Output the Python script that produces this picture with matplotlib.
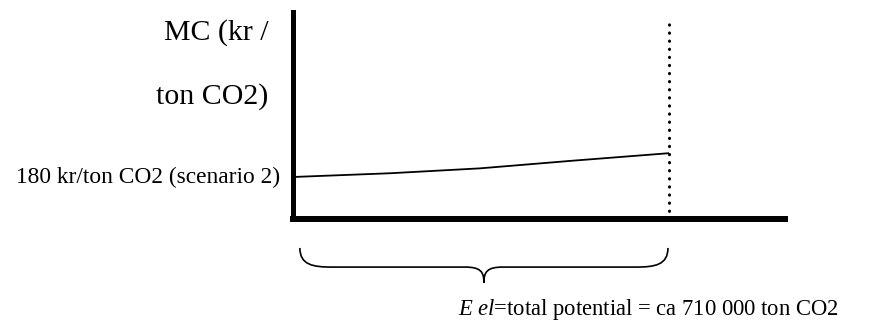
import matplotlib
matplotlib.use("Agg")
import matplotlib.pyplot as plt
from matplotlib.path import Path
from matplotlib.patches import PathPatch

plt.rcParams['font.family'] = ['Liberation Serif', 'DejaVu Serif']
plt.rcParams['mathtext.fontset'] = 'custom'
plt.rcParams['mathtext.rm'] = 'Liberation Serif'
plt.rcParams['mathtext.it'] = 'Liberation Serif:italic'

# --- data (conceptual marginal cost curve) ---
potential_x = [0, 183000, 353000, 529000, 710000]   # ton CO2
mc_values = [180, 196, 217, 250, 282]               # kr / ton CO2
total_potential = 710000
ylabel_lines = ["MC (kr /", "ton CO2)"]
start_label = "180 kr/ton CO2 (scenario 2)"
bottom_label = r"$\mathit{E\ el}$=total potential = ca 710 000 ton CO2"

W, H = 872, 322
fig = plt.figure(figsize=(W / 100, H / 100), dpi=100)

def fx(px):
    return px / W

def fy(py):
    return 1 - py / H

ax = fig.add_axes([fx(293), fy(219), fx(785) - fx(293), fy(12) - fy(219)])
ax.set_xlim(0, 929000)
ax.set_ylim(0, 887)

for s in ['top', 'right']:
    ax.spines[s].set_visible(False)
ax.spines['left'].set_linewidth(3.6)
ax.spines['bottom'].set_linewidth(4.3)
ax.spines['left'].set_capstyle('projecting')
ax.spines['bottom'].set_capstyle('projecting')
ax.set_xticks([])
ax.set_yticks([])

# curve
ax.plot(potential_x, mc_values, color='black', lw=1.3, solid_capstyle='butt')

# dotted limit line
ax.plot([total_potential, total_potential], [0, 846], color='black', lw=2.2,
        linestyle=(0, (0.1, 2.55)), dash_capstyle='round')

# brace under the x-axis (data coords, outside the axes)
x0, x1 = 13000, 708000
xm = (x0 + x1) / 2
ytop, ymid, ybot = -124, -206, -274
dx1 = 60000
dx2 = 36000
verts = [
    (x0, ytop), (x0, ymid + 10), (x0 + dx1 * 0.4, ymid), (x0 + dx1, ymid),
    (xm - dx2, ymid),
    (xm - 6000, ymid), (xm, ymid - 20), (xm, ybot),
    (xm, ymid - 20), (xm + 6000, ymid), (xm + dx2, ymid),
    (x1 - dx1, ymid),
    (x1 - dx1 * 0.4, ymid), (x1, ymid + 10), (x1, ytop),
]
codes = [Path.MOVETO, Path.CURVE4, Path.CURVE4, Path.CURVE4,
         Path.LINETO,
         Path.CURVE4, Path.CURVE4, Path.CURVE4,
         Path.CURVE4, Path.CURVE4, Path.CURVE4,
         Path.LINETO,
         Path.CURVE4, Path.CURVE4, Path.CURVE4]
ax.add_patch(PathPatch(Path(verts, codes), fill=False, lw=1.2,
                       edgecolor='black', clip_on=False))

# texts
fig.text(fx(268), fy(33), ylabel_lines[0], ha='right', va='center', fontsize=21.5)
fig.text(fx(268), fy(97), ylabel_lines[1], ha='right', va='center', fontsize=21.5)
fig.text(fx(280), fy(177), start_label, ha='right', va='center', fontsize=16.8)
fig.text(fx(458), fy(309), bottom_label, ha='left', va='center', fontsize=16.3)

fig.savefig("out.png", dpi=100)
